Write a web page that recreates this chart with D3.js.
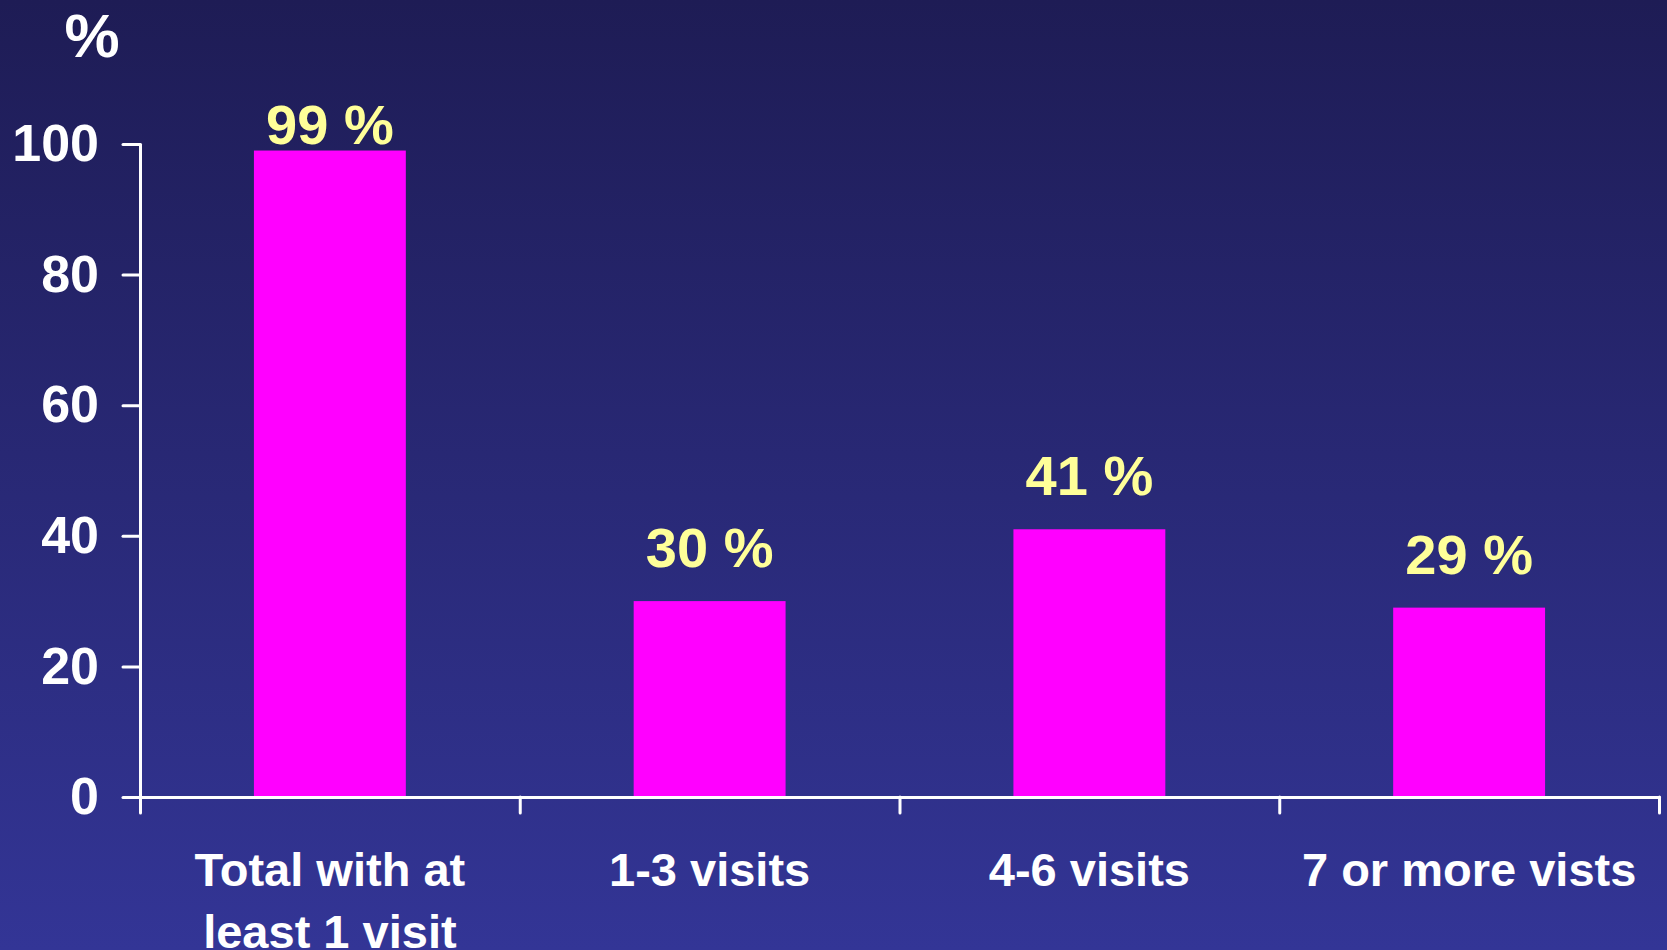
<!DOCTYPE html>
<html>
<head>
<meta charset="utf-8">
<script src="https://cdn.jsdelivr.net/npm/d3@7"></script>
<style>
  body { margin: 0; background: #26256f; }
  svg { display: block; }
  text { font-family: "Liberation Sans", Arial, sans-serif; font-weight: bold; }
</style>
</head>
<body>
<svg id="chart" width="1667" height="950"></svg>
<script>
// data
var categories = ["Total with at\nleast 1 visit", "1-3 visits", "4-6 visits", "7 or more vists"];
var values = [99, 30, 41, 29];
var valueLabels = ["99 %", "30 %", "41 %", "29 %"];
var yTicks = [0, 20, 40, 60, 80, 100];

d3.select(window).on('load', init);

function init() {
    var svg = d3.select("#chart");
    var width = 1667, height = 950;

    // background gradient, dark navy at top to lighter blue at bottom
    var grad = svg.append("defs").append("linearGradient")
        .attr("id", "bg")
        .attr("x1", 0).attr("y1", 0).attr("x2", 0).attr("y2", 1);
    grad.append("stop").attr("offset", "0%").attr("stop-color", "#1e1c55");
    grad.append("stop").attr("offset", "100%").attr("stop-color", "#333596");
    svg.append("rect").attr("width", width).attr("height", height).attr("fill", "url(#bg)");

    var plotLeft = 140, plotRight = 1659, plotTop = 144, plotBottom = 797;

    var x = d3.scaleBand()
        .domain(categories)
        .range([plotLeft, plotRight])
        .paddingInner(0.6)
        .paddingOuter(0.3);

    // category boundary ticks
    var xEdges = d3.scaleLinear().domain([0, categories.length]).range([plotLeft, plotRight]);

    var y = d3.scaleLinear().domain([0, 100]).range([plotBottom, plotTop]);

    // bars
    svg.selectAll("rect.bar")
        .data(values)
        .enter()
        .append("rect")
        .attr("class", "bar")
        .attr("x", function(d, i){ return x(categories[i]); })
        .attr("y", function(d){ return y(d); })
        .attr("width", x.bandwidth())
        .attr("height", function(d){ return plotBottom - y(d); })
        .attr("fill", "#ff00ff");

    // value labels above the bars (top one is held inside the plot)
    svg.selectAll("text.val")
        .data(values)
        .enter()
        .append("text")
        .attr("class", "val")
        .attr("x", function(d, i){ return x(categories[i]) + x.bandwidth() / 2; })
        .attr("y", function(d){ return Math.max(y(d) - 34, plotTop); })
        .attr("text-anchor", "middle")
        .attr("font-size", 56)
        .attr("fill", "#ffff99")
        .text(function(d, i){ return valueLabels[i]; });

    // y axis
    var yAxis = svg.append("g")
        .attr("transform", "translate(" + plotLeft + ",0)")
        .call(d3.axisLeft(y).tickValues(yTicks).tickSize(17).tickSizeOuter(0).tickPadding(24));
    yAxis.selectAll("text").attr("font-size", 52).attr("fill", "#ffffff")
        .style("font-family", "'Liberation Sans', Arial, sans-serif").style("font-weight", "bold");

    // x axis with ticks at the category edges
    svg.append("g")
        .attr("transform", "translate(0," + plotBottom + ")")
        .call(d3.axisBottom(xEdges).tickValues(d3.range(categories.length + 1)).tickSize(16).tickSizeOuter(0).tickFormat(""));

    svg.selectAll(".domain, .tick line")
        .attr("stroke", "#ffffff")
        .attr("stroke-width", 3)
        .attr("stroke-linecap", "round");

    // category labels
    svg.selectAll("text.cat")
        .data(categories)
        .enter()
        .append("text")
        .attr("class", "cat")
        .attr("text-anchor", "middle")
        .attr("font-size", 47)
        .attr("fill", "#ffffff")
        .each(function(d){
            var t = d3.select(this);
            var cx = x(d) + x.bandwidth() / 2;
            d.split("\n").forEach(function(line, j){
                t.append("tspan").attr("x", cx).attr("y", 886 + j * 62).text(line);
            });
        });

    // axis unit
    svg.append("text")
        .attr("x", 92)
        .attr("y", 57)
        .attr("text-anchor", "middle")
        .attr("font-size", 62)
        .attr("fill", "#ffffff")
        .text("%");
}
</script>
</body>
</html>
